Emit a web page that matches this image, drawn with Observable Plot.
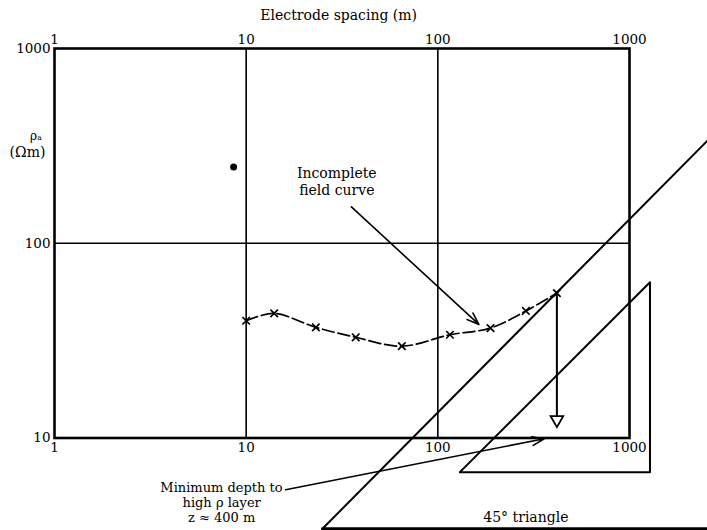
<!DOCTYPE html>
<html>
<head>
<meta charset="utf-8">
<script src="https://cdn.jsdelivr.net/npm/d3@7"></script>
<script src="https://cdn.jsdelivr.net/npm/@observablehq/plot@0.6"></script>
<style>
  html, body { margin: 0; padding: 0; background: #fff; }
</style>
</head>
<body>
<div id="chart"></div>
<script>
// Field data: electrode spacing (m) vs apparent resistivity (ohm m)
const spacing     = [10, 14, 23.1, 37.3, 64.9, 115.6, 188.4, 288, 418];
const resistivity = [40.0, 43.6, 37.0, 32.9, 29.6, 33.9, 36.7, 44.9, 55.5];

// tick values
const xTicks = [1, 10, 100, 1000];
const yTicks = [10, 100, 1000];
const xGrid = [10, 100];
const yGrid = [100];

// isolated ink blot in the original
const blotX = [8.6];
const blotY = [246];

// 45 degree triangles (vertices, data units)
const smallTriX = [130.3, 1279, 1279, 130.3];
const smallTriY = [6.68, 6.68, 63.0, 6.68];
const bigHypX = [25.0, 2570];
const bigHypY = [3.42, 338.5];
const bigBaseX = [25.0, 2570];
const bigBaseY = [3.42, 3.42];

// depth arrow (down from last point)
const depthArrowX = [418, 418];
const depthArrowY = [55.5, 12.9];
const depthHeadY = [12.4];

// annotation arrows
const arrowCurve = {x1: 35.4, y1: 153.7, x2: 163.7, y2: 38.3};
const arrowDepth = {x1: 16.07, y1: 5.42, x2: 359, y2: 9.91};

// labels (centred)
const labelsMiddle = [
  {text: "Electrode spacing (m)", x: 30.4, y: 1469},
  {text: "Incomplete", x: 29.7, y: 228},
  {text: "field curve", x: 29.7, y: 186},
  {text: "45° triangle", x: 288, y: 3.90},
  {text: "(Ωm)", x: 0.723, y: 294}
];
// depth annotation lines
const depthNoteEnd = [{text: "Minimum depth to", x: 15.5, y: 5.57}];
const depthNoteMid = [
  {text: "high ρ layer", x: 7.45, y: 4.66},
  {text: "z ≈ 400 m", x: 7.45, y: 3.90}
];
// y-axis symbol
const yLabel = [{text: "ρₐ", x: 0.80, y: 355}];

const pts = spacing.map((x, i) => ({x, y: resistivity[i]}));
const tri = smallTriX.map((x, i) => ({x, y: smallTriY[i]}));
const hyp = bigHypX.map((x, i) => ({x, y: bigHypY[i]}));
const base = bigBaseX.map((x, i) => ({x, y: bigBaseY[i]}));
const vline = depthArrowX.map((x, i) => ({x, y: depthArrowY[i]}));

const chart = Plot.plot({
  width: 707,
  height: 530,
  marginLeft: 54,
  marginRight: 78,
  marginTop: 48,
  marginBottom: 92.5,
  style: {fontFamily: "'DejaVu Serif', serif", fontSize: "14px", background: "#fff", color: "#000"},
  x: {type: "log", domain: [1, 1000], label: null},
  y: {type: "log", domain: [10, 1000], label: null},
  marks: [
    Plot.ruleX(xGrid, {stroke: "#000", strokeWidth: 1.6}),
    Plot.ruleY(yGrid, {stroke: "#000", strokeWidth: 1.6}),
    Plot.frame({stroke: "#000", strokeWidth: 2.6}),
    Plot.axisX({anchor: "top", ticks: xTicks, tickSize: 0, tickPadding: 5, tickFormat: d => String(d), label: null, fontSize: 13.5}),
    Plot.axisX({anchor: "bottom", ticks: xTicks, tickSize: 0, tickPadding: 4, tickFormat: d => String(d), label: null, fontSize: 13.5}),
    Plot.axisY({anchor: "left", ticks: yTicks, tickSize: 0, tickPadding: 4, tickFormat: d => String(d), label: null, fontSize: 13.5}),
    Plot.line(pts, {x: "x", y: "y", curve: "catmull-rom", stroke: "#000", strokeWidth: 1.7, strokeDasharray: "12,4"}),
    Plot.dot(pts, {x: "x", y: "y", symbol: "times", r: 3.5, stroke: "#000", strokeWidth: 1.7}),
    Plot.dot(blotX.map((x, i) => ({x, y: blotY[i]})), {x: "x", y: "y", r: 3.5, fill: "#000"}),
    Plot.line(tri, {x: "x", y: "y", stroke: "#000", strokeWidth: 2}),
    Plot.line(hyp, {x: "x", y: "y", stroke: "#000", strokeWidth: 2}),
    Plot.line(base, {x: "x", y: "y", stroke: "#000", strokeWidth: 3}),
    Plot.line(vline, {x: "x", y: "y", stroke: "#000", strokeWidth: 2}),
    Plot.dot(depthHeadY.map(y => ({x: depthArrowX[0], y})), {x: "x", y: "y", symbol: "triangle", rotate: 180, r: 4.7, fill: "#fff", stroke: "#000", strokeWidth: 1.8}),
    Plot.arrow([arrowCurve], {x1: "x1", y1: "y1", x2: "x2", y2: "y2", stroke: "#000", strokeWidth: 1.6, headLength: 12, headAngle: 40}),
    Plot.arrow([arrowDepth], {x1: "x1", y1: "y1", x2: "x2", y2: "y2", stroke: "#000", strokeWidth: 1.6, headLength: 12, headAngle: 40}),
    Plot.text(labelsMiddle, {x: "x", y: "y", text: "text", textAnchor: "middle", fill: "#000", fontSize: 14}),
    Plot.text(depthNoteEnd, {x: "x", y: "y", text: "text", textAnchor: "end", fill: "#000", fontSize: 13}),
    Plot.text(depthNoteMid, {x: "x", y: "y", text: "text", textAnchor: "middle", fill: "#000", fontSize: 13}),
    Plot.text(yLabel, {x: "x", y: "y", text: "text", textAnchor: "middle", fill: "#000", fontSize: 12})
  ]
});
document.getElementById("chart").appendChild(chart);
</script>
</body>
</html>
